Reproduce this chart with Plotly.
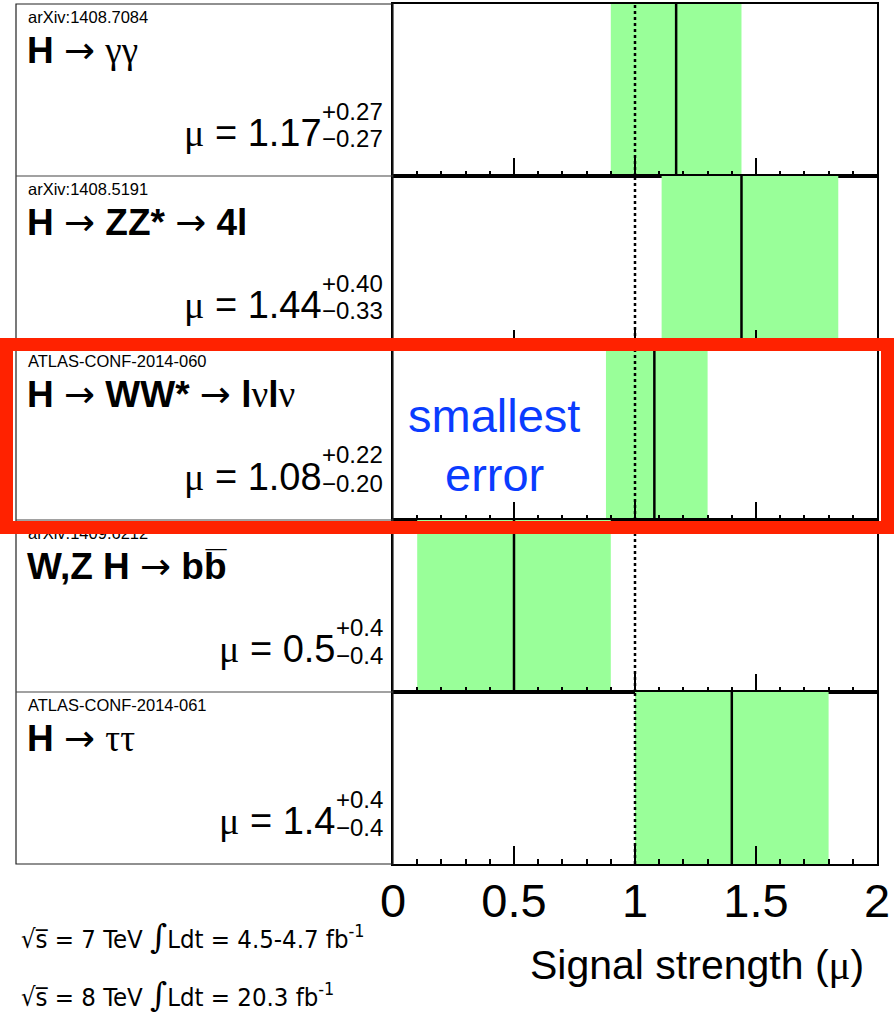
import plotly.graph_objects as go
from plotly.subplots import make_subplots

W, H = 894, 1013

# ---- measurements per decay channel (top to bottom) ----
sources = ["arXiv:1408.7084", "arXiv:1408.5191", "ATLAS-CONF-2014-060",
           "arXiv:1409.6212", "ATLAS-CONF-2014-061"]
SERIF = "Liberation Serif"
ARROW = "<span style='font-family:DejaVu Sans'>→</span>"


def greek(s):
    return f"<span style='font-family:{SERIF}'>{s}</span>"


channels = [
    f"<b>H</b> {ARROW} {greek('γγ')}",
    f"<b>H</b> {ARROW} <b>ZZ*</b> {ARROW} <b>4l</b>",
    f"<b>H</b> {ARROW} <b>WW*</b> {ARROW} <b>l</b>{greek('ν')}<b>l</b>{greek('ν')}",
    f"<b>W,Z H</b> {ARROW} <b>bb\u0305</b>",
    f"<b>H</b> {ARROW} {greek('ττ')}",
]
mu_central = [1.17, 1.44, 1.08, 0.5, 1.4]
err_up = [0.27, 0.40, 0.22, 0.4, 0.4]
err_down = [0.27, 0.33, 0.20, 0.4, 0.4]
mu_labels = ["1.17", "1.44", "1.08", "0.5", "1.4"]
up_labels = ["+0.27", "+0.40", "+0.22", "+0.4", "+0.4"]
down_labels = ["−0.27", "−0.33", "−0.20", "−0.4", "−0.4"]

x_tick_vals = [0, 0.5, 1, 1.5, 2]
x_tick_text = ["0", "0.5", "1", "1.5", "2"]
SM_MU = 1.0
highlight_row = 2

FONT = "Liberation Sans"
COND = "DejaVu Sans Condensed, Liberation Sans Narrow, Liberation Sans"
GREEN = "#99ff99"

n = len(sources)
TOP, ROW_H = 4, 172
X_LEFT, X_SPLIT, X_RIGHT = 16, 393, 877


def px(x):
    return x / W


def py(y):
    return 1 - y / H


fig = make_subplots(rows=n, cols=1, shared_xaxes=True, vertical_spacing=0)

for i in range(n):
    r = i + 1
    lo = mu_central[i] - err_down[i]
    fig.add_trace(go.Bar(orientation="h", y=[0.5], x=[err_up[i] + err_down[i]], base=[lo],
                         width=1, marker=dict(color=GREEN, line=dict(width=0)),
                         showlegend=False, hoverinfo="skip"), row=r, col=1)
    fig.add_trace(go.Scatter(x=[SM_MU, SM_MU], y=[0, 1], mode="lines",
                             line=dict(color="black", width=2.5, dash="dot"),
                             showlegend=False, hoverinfo="skip"), row=r, col=1)
    fig.add_trace(go.Scatter(x=[mu_central[i], mu_central[i]], y=[0, 1], mode="lines",
                             line=dict(color="black", width=2.5),
                             showlegend=False, hoverinfo="skip"), row=r, col=1)

    top = TOP + ROW_H * i
    yk = "yaxis" if r == 1 else f"yaxis{r}"
    xk = "xaxis" if r == 1 else f"xaxis{r}"
    fig.layout[yk].update(domain=[py(top + ROW_H), py(top)], range=[0, 1], automargin=False,
                          showticklabels=False, ticks="", showgrid=False, zeroline=False,
                          showline=True, mirror=True, linecolor="black", linewidth=1.5)
    fig.layout[xk].update(domain=[px(X_SPLIT), px(X_RIGHT)], range=[0, 2], automargin=False,
                          showgrid=False, zeroline=False, showline=True, mirror=True,
                          linecolor="black", linewidth=1.5,
                          ticks="inside", ticklen=18, tickwidth=1.5, tickcolor="black",
                          tickmode="array", tickvals=x_tick_vals, ticktext=x_tick_text,
                          minor=dict(ticks="inside", ticklen=5, tickwidth=1.5,
                                     tickcolor="black", dtick=0.1, tick0=0, showgrid=False),
                          showticklabels=(r == n),
                          tickfont=dict(family=FONT, size=47, color="black"),
                          ticklabelstandoff=-5)

# ---- left-hand label panel ----
shapes = [dict(type="rect", xref="paper", yref="paper", x0=px(X_LEFT), x1=px(X_SPLIT),
               y0=py(TOP + ROW_H * n), y1=py(TOP), line=dict(color="#222", width=1.2))]
for i in range(1, n):
    y = TOP + ROW_H * i
    shapes.append(dict(type="line", xref="paper", yref="paper", x0=px(X_LEFT), x1=px(X_SPLIT),
                       y0=py(y), y1=py(y), line=dict(color="#444", width=1.2)))

annotations = []


def add_text(text, x, y, size, xanchor="left", yanchor="middle", color="black", family=FONT):
    annotations.append(dict(text=text, x=px(x), y=py(y), xref="paper", yref="paper",
                            xanchor=xanchor, yanchor=yanchor, showarrow=False,
                            font=dict(family=family, size=size, color=color)))


# width of a numeric label in em (Helvetica-style metrics)
EM = {"+": 0.584, "−": 0.584, ".": 0.278}


def em_width(s):
    return sum(EM.get(c, 0.556) for c in s)


SUP = 24
X_END = 385
for i in range(n):
    top = TOP + ROW_H * i
    add_text(sources[i], 26, top + 13, 16.5)
    add_text(channels[i], 25, top + 46, 37)
    w = em_width(up_labels[i]) * SUP
    add_text(f"{greek('μ')} = {mu_labels[i]}", X_END - w, top + 129, 38, xanchor="right")
    add_text(up_labels[i], X_END, top + 107, SUP, xanchor="right")
    add_text(down_labels[i], X_END, top + 135, SUP, xanchor="right")

# note next to the highlighted channel
hl_top = TOP + ROW_H * highlight_row
add_text("smallest", 494, hl_top + 67, 47, xanchor="center", color="#0a3cff")
add_text("error", 494, hl_top + 126, 47, xanchor="center", color="#0a3cff")

# axis title and luminosity lines
add_text(f"Signal strength ({greek('μ')})", 866, 965, 41, xanchor="right")
INTEGRAL = "<span style='font-family:DejaVu Serif;font-size:33px'>∫</span>"
add_text(f"√s\u0305 = 7 TeV {INTEGRAL}Ldt = 4.5-4.7 fb<sup>-1</sup>", 19, 936, 25.5, family=COND)
add_text(f"√s\u0305 = 8 TeV {INTEGRAL}Ldt = 20.3 fb<sup>-1</sup>", 19, 994, 25.5, family=COND)

# red frame around the highlighted row (drawn last, on top)
annotations.append(dict(text=" ", x=px(447), y=py(436), xref="paper", yref="paper",
                        xanchor="center", yanchor="middle", showarrow=False,
                        width=868, height=170, borderwidth=13, borderpad=0,
                        bordercolor="#ff2200", bgcolor="rgba(0,0,0,0)"))

fig.update_layout(width=W, height=H, margin=dict(l=0, r=0, t=0, b=0),
                  paper_bgcolor="white", plot_bgcolor="white",
                  shapes=shapes, annotations=annotations, barmode="overlay",
                  font=dict(family=FONT, color="black"))

fig.write_html("out.html")
